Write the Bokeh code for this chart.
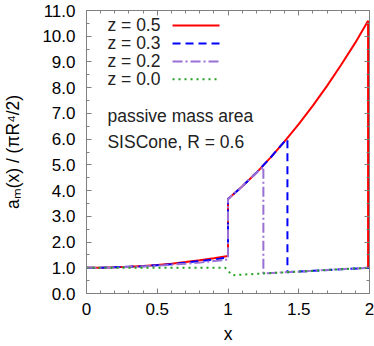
from bokeh.plotting import figure
from bokeh.models import Range1d, LinearAxis, SingleIntervalTicker, PrintfTickFormatter
from bokeh.embed import file_html
from bokeh.resources import INLINE
from bokeh.core.properties import value

# ---- data ----
x_z05 = [0.0, 0.1, 0.2, 0.3, 0.4, 0.5, 0.6, 0.7, 0.8, 0.9, 1.0,
         1.0, 1.1, 1.2, 1.3, 1.4, 1.5, 1.6, 1.7, 1.8, 1.9, 1.99, 1.99, 2.0]
y_z05 = [1.00, 1.00, 1.02, 1.04, 1.07, 1.11, 1.16, 1.22, 1.29, 1.37, 1.46,
         3.67, 4.16, 4.69, 5.28, 5.91, 6.58, 7.30, 8.07, 8.89, 9.75, 10.60, 1.00, 1.00]

x_z03 = [0.0, 0.1, 0.2, 0.3, 0.4, 0.5, 0.6, 0.7, 0.8, 0.9, 1.0,
         1.0, 1.1, 1.2, 1.3, 1.4, 1.42, 1.42, 1.6, 1.8, 2.0]
y_z03 = [1.00, 1.00, 1.02, 1.04, 1.06, 1.10, 1.14, 1.20, 1.26, 1.32, 1.40,
         3.67, 4.16, 4.69, 5.28, 5.91, 6.00, 0.83, 0.88, 0.94, 1.00]

x_z02 = [0.0, 0.1, 0.2, 0.3, 0.4, 0.5, 0.6, 0.7, 0.8, 0.9, 1.0,
         1.0, 1.1, 1.2, 1.25, 1.25, 1.5, 1.75, 2.0]
y_z02 = [1.00, 1.00, 1.01, 1.03, 1.05, 1.08, 1.12, 1.16, 1.20, 1.26, 1.32,
         3.67, 4.16, 4.69, 4.92, 0.78, 0.85, 0.93, 1.00]

x_z00 = [0.0, 0.5, 0.98, 1.03, 1.25, 1.5, 1.75, 2.0]
y_z00 = [1.00, 1.00, 1.00, 0.71, 0.78, 0.85, 0.93, 1.00]

series_labels = ["z = 0.5", "z = 0.3", "z = 0.2", "z = 0.0"]
series_colors = ["#ff0000", "#0000ff", "#9a6fd6", "#22a022"]
series_dash = ["solid", "8 5", "10 3 2 3", "2 4"]
info_lines = ["passive mass area", "SISCone, R = 0.6"]
x_title = "x"
y_title = "aₘ(x) / (πR⁴/2)"

FONT = "Liberation Sans"
AX_COL = "#808080"

p = figure(width=374, height=346, output_backend="svg", toolbar_location=None,
           x_range=Range1d(0, 2), y_range=Range1d(0, 11),
           min_border_left=86, min_border_right=5, min_border_top=10,
           min_border_bottom=52, x_axis_label=x_title, y_axis_label=y_title)
p.grid.visible = False
p.outline_line_color = AX_COL
p.outline_line_width = 1
p.background_fill_color = "white"
p.border_fill_color = "white"

xt = SingleIntervalTicker(interval=0.5, num_minor_ticks=5)
yt = SingleIntervalTicker(interval=1.0, num_minor_ticks=2)


def style(ax):
    ax.axis_line_color = AX_COL
    ax.major_tick_line_color = AX_COL
    ax.minor_tick_line_color = AX_COL
    ax.major_tick_in = 5
    ax.major_tick_out = 0
    ax.minor_tick_in = 3
    ax.minor_tick_out = 0
    ax.major_label_text_font = FONT
    ax.major_label_text_font_size = "17px"
    ax.major_label_text_color = "black"
    ax.axis_label_text_font = FONT
    ax.axis_label_text_font_size = "17.5px"
    ax.axis_label_text_font_style = "normal"
    ax.axis_label_text_color = "black"


p.xaxis.ticker = xt
p.yaxis.ticker = yt
p.yaxis.formatter = PrintfTickFormatter(format="%.1f")
style(p.xaxis[0])
style(p.yaxis[0])
p.xaxis.major_label_standoff = 9
p.xaxis.axis_label_standoff = 6
p.yaxis.major_label_standoff = 11
p.yaxis.axis_label_standoff = 16

top = LinearAxis(ticker=SingleIntervalTicker(interval=0.5, num_minor_ticks=5))
right = LinearAxis(ticker=SingleIntervalTicker(interval=1.0, num_minor_ticks=2))
for ax in (top, right):
    style(ax)
    ax.major_label_text_font_size = "1px"
    ax.major_label_text_color = None
    ax.major_label_standoff = 0
p.add_layout(top, "above")
p.add_layout(right, "right")

xs = [x_z05, x_z03, x_z02, x_z00]
ys = [y_z05, y_z03, y_z02, y_z00]
for xv, yv, c, d in zip(xs, ys, series_colors, series_dash):
    p.line(xv, yv, line_color=c, line_width=2, line_dash=d)

# legend (label on the left, sample on the right)
leg_y = [10.42, 9.72, 9.02, 8.33]
p.text(x=[0.148] * 4, y=leg_y, text=series_labels, text_font=value(FONT),
       text_font_size="17.5px", text_baseline="middle", text_align="left",
       text_color="#222222")
for yy, c, d in zip(leg_y, series_colors, series_dash):
    p.line([0.608, 0.94], [yy, yy], line_color=c, line_width=2, line_dash=d)

p.text(x=[0.148, 0.148], y=[6.89, 5.89], text=info_lines, text_font=value(FONT),
       text_font_size="17.5px", text_baseline="middle", text_align="left",
       text_color="#222222")

open("out.html", "w").write(file_html(p, INLINE))
